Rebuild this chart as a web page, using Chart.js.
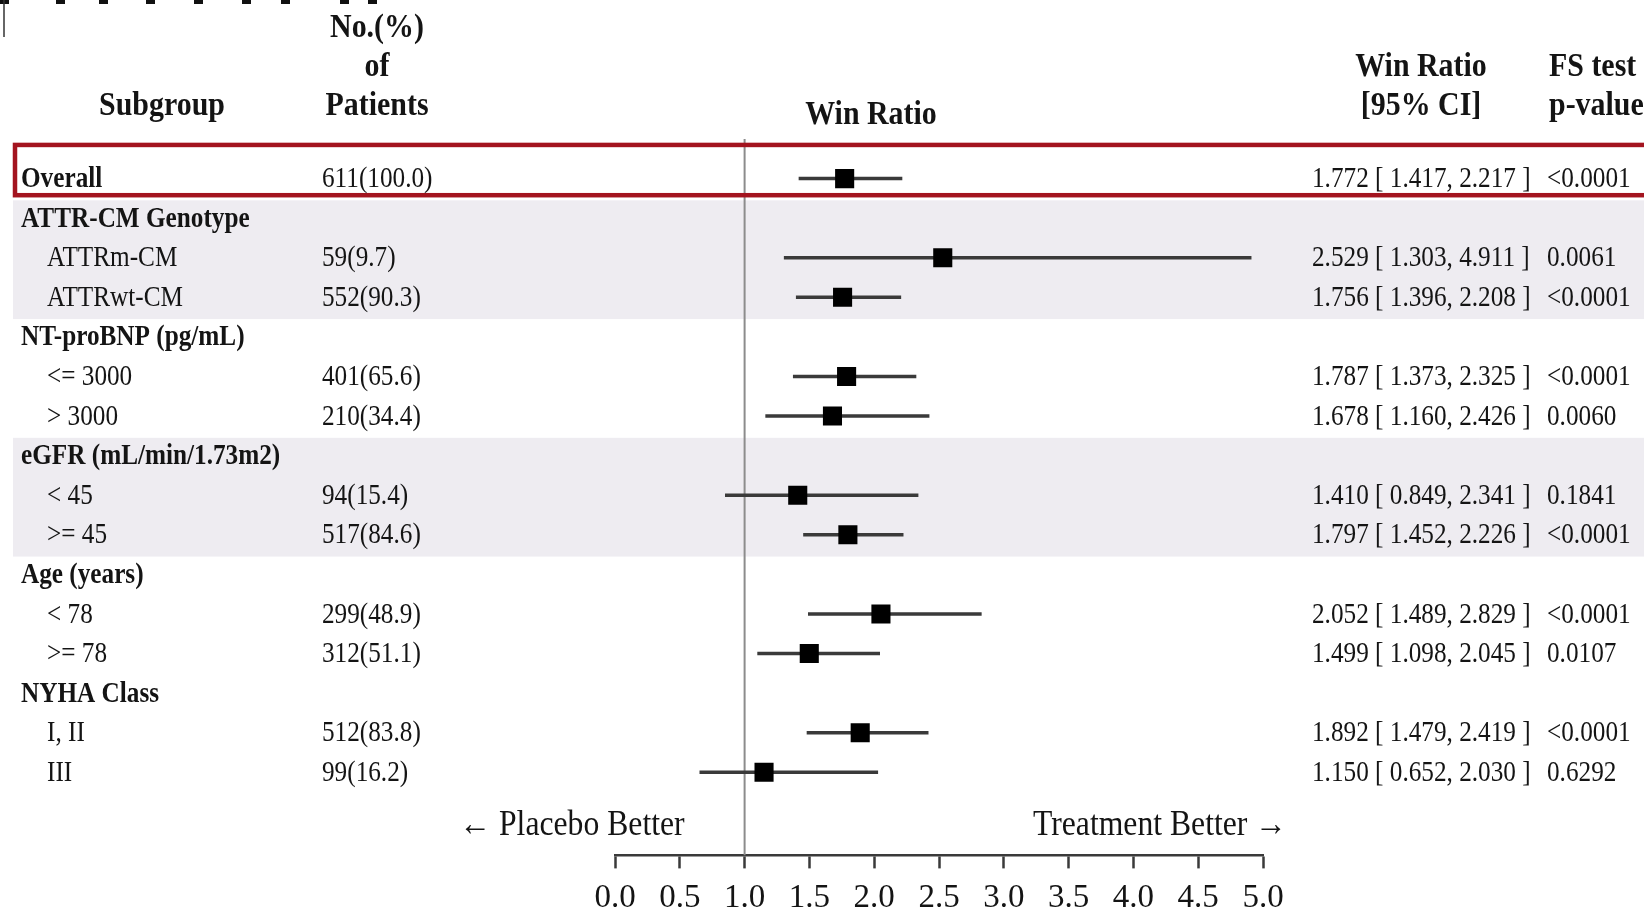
<!DOCTYPE html>
<html>
<head>
<meta charset="utf-8">
<script src="https://cdn.jsdelivr.net/npm/chart.js@4.4.1/dist/chart.umd.min.js"></script>
<style>
    body { margin: 0; background: #ffffff; }
    canvas { display: block; }
</style>
</head>
<body>
<canvas id="forestChart" width="1644" height="913"></canvas>
<script>
// rows of the forest plot, top to bottom
const subgroups = ['Overall', 'ATTR-CM Genotype', 'ATTRm-CM', 'ATTRwt-CM', 'NT-proBNP (pg/mL)', '<= 3000', '> 3000',
    'eGFR (mL/min/1.73m2)', '< 45', '>= 45', 'Age (years)', '< 78', '>= 78', 'NYHA Class', 'I, II', 'III'];
const boldRows = [true, true, false, false, true, false, false, true, false, false, true, false, false, true, false, false];
const patients = ['611(100.0)', '', '59(9.7)', '552(90.3)', '', '401(65.6)', '210(34.4)', '', '94(15.4)', '517(84.6)',
    '', '299(48.9)', '312(51.1)', '', '512(83.8)', '99(16.2)'];
const winRatio = [1.772, null, 2.529, 1.756, null, 1.787, 1.678, null, 1.410, 1.797, null, 2.052, 1.499, null, 1.892, 1.150];
const ciLower = [1.417, null, 1.303, 1.396, null, 1.373, 1.160, null, 0.849, 1.452, null, 1.489, 1.098, null, 1.479, 0.652];
const ciUpper = [2.217, null, 4.911, 2.208, null, 2.325, 2.426, null, 2.341, 2.226, null, 2.829, 2.045, null, 2.419, 2.030];
const pValues = ['<0.0001', '', '0.0061', '<0.0001', '', '<0.0001', '0.0060', '', '0.1841', '<0.0001', '', '<0.0001',
    '0.0107', '', '<0.0001', '0.6292'];
const xTicks = [0.0, 0.5, 1.0, 1.5, 2.0, 2.5, 3.0, 3.5, 4.0, 4.5, 5.0];
const nullLine = 1;
const shadedGroups = [[1, 3], [7, 9]];

const FONT = '"Liberation Serif", "Times New Roman", serif';
const INK = '#141414';

function drawText(ctx, text, x, y, size, bold, align, sx) {
    ctx.save();
    ctx.font = (bold ? 'bold ' : '') + size + 'px ' + FONT;
    ctx.fillStyle = INK;
    ctx.textAlign = align;
    ctx.textBaseline = 'middle';
    ctx.translate(x, y);
    ctx.scale(sx, 1);
    ctx.fillText(text, 0, 0);
    ctx.restore();
}

// CI whiskers: one line dataset, broken by null points
const ciPoints = [];
winRatio.forEach((wr, i) => {
    if (wr === null) return;
    ciPoints.push({x: ciLower[i], y: i}, {x: ciUpper[i], y: i}, {x: ciUpper[i], y: null});
});
const estPoints = [];
winRatio.forEach((wr, i) => {
    if (wr !== null) estPoints.push({x: wr, y: i});
});

const tablePlugin = {
    id: 'forestTable',
    beforeDatasetsDraw(chart) {
        const {ctx} = chart;
        const y = chart.scales.y;
        ctx.save();
        ctx.fillStyle = '#eeecf1';
        shadedGroups.forEach(([a, b]) => {
            const top = y.getPixelForValue(a - 0.45);
            const bottom = y.getPixelForValue(b + 0.55);
            ctx.fillRect(13, top, chart.width - 13, bottom - top);
        });
        ctx.restore();
    },
    afterDatasetsDraw(chart) {
        const {ctx} = chart;
        const x = chart.scales.x;
        const y = chart.scales.y;

        // highlight box round the overall row
        ctx.save();
        ctx.strokeStyle = '#a3141f';
        ctx.lineWidth = 4.5;
        const boxTop = y.getPixelForValue(-0.85);
        const boxBottom = y.getPixelForValue(0.42);
        ctx.strokeRect(15, boxTop, chart.width + 20, boxBottom - boxTop);
        ctx.restore();

        // clipped remains at the top-left corner
        ctx.save();
        ctx.fillStyle = '#111';
        [0, 56, 99, 146, 194, 242, 281, 340, 368].forEach(px => ctx.fillRect(px, 0, 9, 4));
        ctx.strokeStyle = '#333';
        ctx.lineWidth = 1.5;
        ctx.beginPath();
        ctx.moveTo(4, 0);
        ctx.lineTo(4, 37);
        ctx.stroke();
        ctx.restore();

        // column headers
        drawText(ctx, 'Subgroup', 162, 106, 34, true, 'center', 0.88);
        drawText(ctx, 'No.(%)', 377, 28, 34, true, 'center', 0.88);
        drawText(ctx, 'of', 377, 67, 34, true, 'center', 0.88);
        drawText(ctx, 'Patients', 377, 106, 34, true, 'center', 0.88);
        drawText(ctx, 'Win Ratio', 871, 115, 34, true, 'center', 0.88);
        drawText(ctx, 'Win Ratio', 1421, 67, 34, true, 'center', 0.88);
        drawText(ctx, '[95% CI]', 1421, 106, 34, true, 'center', 0.88);
        drawText(ctx, 'FS test', 1549, 67, 34, true, 'left', 0.88);
        drawText(ctx, 'p-value', 1549, 106, 34, true, 'left', 0.88);

        // table rows
        subgroups.forEach((label, i) => {
            const py = y.getPixelForValue(i) + 1;
            drawText(ctx, label, boldRows[i] ? 21 : 47, py, 29, boldRows[i], 'left', 0.87);
            if (patients[i]) drawText(ctx, patients[i], 322, py, 29, false, 'left', 0.87);
            if (winRatio[i] !== null) {
                const ci = winRatio[i].toFixed(3) + ' [ ' + ciLower[i].toFixed(3) + ', ' + ciUpper[i].toFixed(3) + ' ]';
                drawText(ctx, ci, 1312, py, 29, false, 'left', 0.87);
                drawText(ctx, pValues[i], 1547, py, 29, false, 'left', 0.87);
            }
        });

        // direction labels
        const labelY = y.getPixelForValue(16.35);
        drawText(ctx, '\u2190 Placebo Better', x.getPixelForValue(nullLine) - 60, labelY, 36, false, 'right', 0.88);
        drawText(ctx, 'Treatment Better \u2192', chart.chartArea.right + 24, labelY, 36, false, 'right', 0.88);
    }
};

new Chart(document.getElementById('forestChart'), {
    type: 'scatter',
    data: {
        datasets: [
            {
                label: 'Win Ratio',
                data: estPoints,
                pointStyle: 'rect',
                pointRadius: 13.5,
                pointHoverRadius: 13.5,
                backgroundColor: '#000000',
                borderWidth: 0,
                order: 1
            },
            {
                type: 'line',
                label: '95% CI',
                data: ciPoints,
                borderColor: '#3a3a3a',
                borderWidth: 3.5,
                pointRadius: 0,
                spanGaps: false,
                order: 2
            },
            {
                type: 'line',
                label: 'No effect',
                data: [{x: nullLine, y: -1}, {x: nullLine, y: 17.1}],
                borderColor: '#8c8c8c',
                borderWidth: 2,
                pointRadius: 0,
                order: 3
            }
        ]
    },
    options: {
        responsive: false,
        animation: false,
        devicePixelRatio: 1,
        layout: {
            padding: {left: 615, right: 381, top: 139, bottom: -15}
        },
        plugins: {
            legend: {display: false},
            tooltip: {enabled: false}
        },
        scales: {
            x: {
                type: 'linear',
                position: 'bottom',
                min: xTicks[0],
                max: xTicks[xTicks.length - 1],
                afterBuildTicks: (axis) => {
                    axis.ticks = xTicks.map(v => ({value: v}));
                },
                ticks: {
                    autoSkip: false,
                    maxRotation: 0,
                    padding: 10,
                    color: INK,
                    font: {family: FONT, size: 33},
                    callback: (v) => Number(v).toFixed(1)
                },
                grid: {
                    drawOnChartArea: false,
                    drawTicks: true,
                    tickLength: 13,
                    tickWidth: 2.5,
                    tickColor: '#3a3a3a'
                },
                border: {display: true, color: '#3a3a3a', width: 2.5}
            },
            y: {
                type: 'linear',
                display: false,
                reverse: true,
                min: -1,
                max: 17.1
            }
        }
    },
    plugins: [tablePlugin]
});
</script>
</body>
</html>
